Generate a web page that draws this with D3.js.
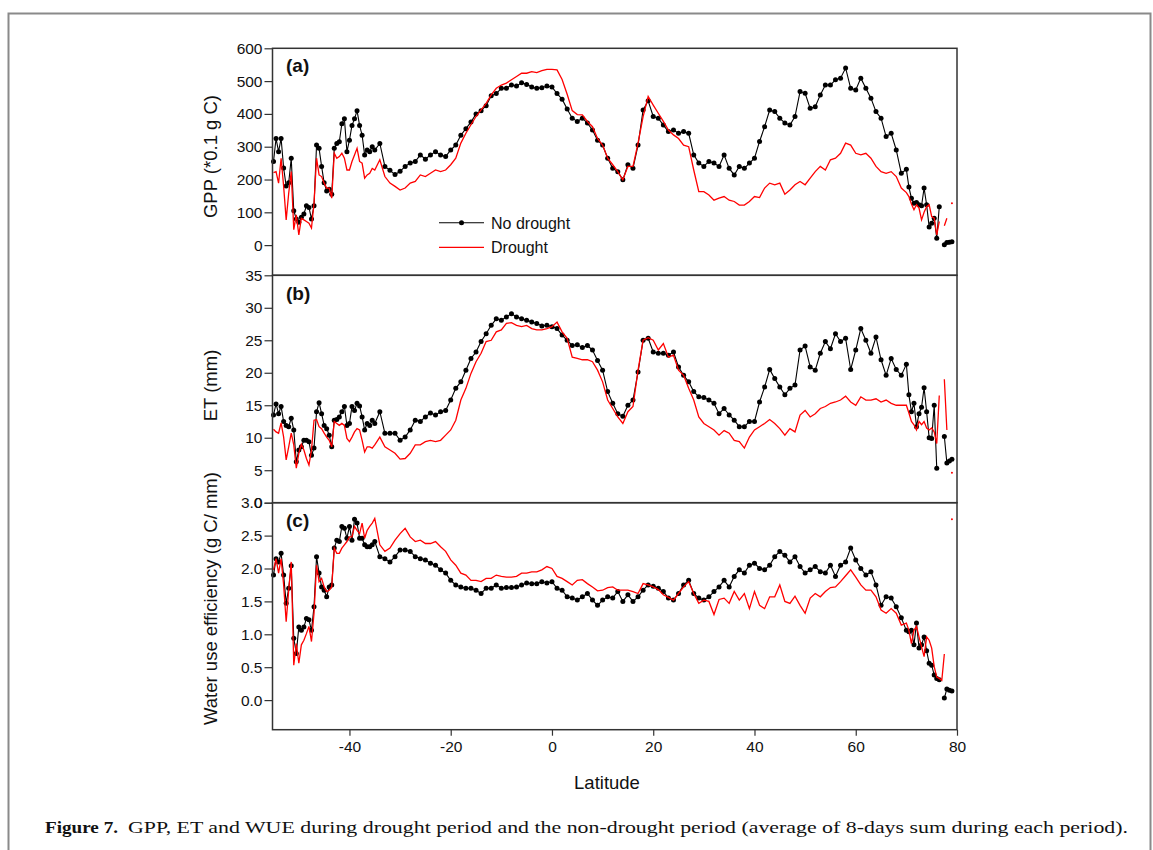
<!DOCTYPE html>
<html>
<head>
<meta charset="utf-8">
<script src="https://cdn.jsdelivr.net/npm/d3@7"></script>
<style>
  body { margin: 0; background: #fff; }
  svg text { font-family: "Liberation Sans", Arial, sans-serif; fill: #111; }
</style>
</head>
<body>
<svg id="chart" width="1153" height="850"></svg>
<script>
// Latitude grid: half degree at both ends, one degree in the middle
const lat = [].concat(d3.range(-55, -35, 0.5), d3.range(-35, 70, 1), d3.range(70, 79.5, 0.5));

// GPP (*0.1 g C)
const gppNoDrought = [
  255, 325, 285, 325, 235, 180, 190, 265, 105, 80,
  70, 85, 95, 120, 115, 80, 120, 305, 295, 240,
  190, 165, 170, 155, 295, 310, 315, 370, 385, 285,
  320, 365, 385, 410, 365, 335, 275, 290, 285, 300,
  290, 310, 240, 228, 215, 225, 240, 250, 255, 275,
  262, 275, 285, 275, 270, 290, 305, 335, 355, 375,
  400, 410, 425, 455, 462, 478, 478, 488, 485, 495,
  490, 482, 478, 480, 485, 482, 462, 445, 415, 387,
  377, 387, 372, 351, 320, 305, 265, 234, 224, 199,
  245, 234, 305, 412, 440, 392, 387, 366, 346, 351,
  341, 346, 341, 275, 250, 240, 255, 250, 240, 275,
  234, 214, 240, 234, 250, 265, 316, 361, 412, 407,
  387, 372, 366, 392, 468, 463, 417, 422, 458, 488,
  488, 504, 509, 540, 478, 473, 509, 478, 448, 407,
  387, 331, 341, 290, 219,
  231, 177, 143, 128, 130, 123, 120, 174, 123, 55,
  67, 82, 21, 117, null, 1, 8, 9, 10
];
const gppDrought = [
  221, 224, 189, 265, 179, 77, 158, 224, 47, 92,
  31, 82, 77, 72, 67, 52, 128, 265, 214, 209,
  189, 174, 174, 143, 280, 265, 270, 280, 265, 229,
  229, 255, 275, 295, 255, 250, 204, 214, 219, 234,
  229, 260, 209, 189, 179, 168, 174, 189, 194, 214,
  209, 219, 229, 224, 229, 245, 265, 311, 341, 367,
  392, 412, 432, 458, 478, 488, 494, 504, 514, 524,
  524, 529, 526, 532, 536, 536, 534, 505, 460, 410,
  398, 397, 377, 361, 325, 305, 265, 245, 224, 199,
  240, 240, 311, 392, 453, 427, 402, 377, 351, 336,
  325, 305, 300, 229, 163, 163, 153, 137, 143, 148,
  137, 133, 122, 122, 133, 148, 145, 174, 189, 184,
  189, 155, 168, 184, 194, 184, 204, 224, 240, 229,
  260, 265, 280, 311, 305, 280, 275, 280, 265, 240,
  224, 219, 224, 209, 174,
  160, 148, 125, 108, 123, 113, 77, 100, 117, 123,
  87, 82, 31, 72, null, 59, 82, null, 128
];

// ET (mm)
const etNoDrought = [
  13.5, 15.2, 13.7, 14.8, 12.5, 11.9, 11.7, 13.0, 11.2, 6.3,
  8.1, 8.6, 9.6, 9.6, 9.4, 7.3, 8.4, 14.0, 15.4, 13.7,
  11.9, 11.4, 10.4, 8.6, 12.7, 12.8, 13.2, 14.0, 14.8, 11.9,
  12.2, 14.8, 14.2, 15.3, 14.9, 13.2, 11.2, 12.2, 11.9, 12.7,
  12.2, 14.0, 10.7, 10.7, 10.7, 9.6, 10.1, 11.2, 12.7, 12.5,
  13.2, 13.8, 13.5, 14.0, 14.2, 15.8, 17.6, 18.6, 20.4, 22.2,
  23.2, 24.8, 26.0, 27.3, 28.3, 28.1, 28.6, 29.1, 28.6, 28.3,
  28.1, 27.8, 27.6, 27.2, 27.3, 27.1, 26.8, 25.8, 25.0, 24.2,
  24.3, 23.9, 24.2, 23.5, 21.9, 20.4, 17.1, 15.3, 13.7, 13.3,
  15.0, 15.8, 20.1, 25.0, 25.3, 23.2, 23.0, 23.0, 22.7, 23.2,
  20.9, 19.6, 18.6, 17.1, 16.3, 16.2, 15.8, 15.3, 13.7, 14.5,
  13.5, 12.7, 11.7, 11.7, 12.5, 12.5, 15.5, 17.8, 20.5, 19.1,
  17.8, 16.6, 17.6, 18.1, 23.5, 24.1, 20.9, 20.4, 23.0, 24.8,
  23.7, 26.0, 24.8, 25.3, 20.5, 23.5, 26.8, 25.0, 23.0, 25.5,
  22.0, 19.6, 22.2, 20.5, 19.6,
  21.3, 16.6, 14.0, 15.3, 11.7, 13.7, 14.7, 17.7, 14.0, 10.0,
  9.9, 15.0, 5.3, null, null, 10.2, 6.1, 6.4, 6.7
];
const etDrought = [
  11.3, 10.9, 10.7, 12.3, 10.1, 6.6, 8.6, 10.7, 8.9, 5.3,
  7.6, 9.0, 8.1, 6.8, 5.8, 8.1, 12.7, 12.8, 11.7, 11.4,
  10.7, 10.1, 9.6, 8.6, 12.5, 12.2, 11.9, 12.2, 11.9, 9.9,
  9.4, 10.1, 10.9, 11.4, 11.2, 9.6, 7.8, 8.6, 8.6, 8.4,
  8.9, 10.1, 8.6, 8.1, 7.6, 6.7, 6.8, 7.6, 8.9, 8.9,
  9.4, 9.6, 9.4, 9.6, 10.4, 11.2, 12.7, 15.8, 17.6, 19.9,
  21.7, 23.0, 24.8, 25.0, 26.3, 26.6, 27.6, 27.7, 27.3, 27.1,
  27.3, 26.8, 26.6, 26.6, 26.8, 27.1, 27.8, 26.3, 25.3, 22.4,
  22.2, 22.0, 22.0, 21.7, 20.4, 18.6, 15.8, 14.5, 13.2, 12.2,
  14.0, 14.8, 20.4, 25.0, 25.4, 25.0, 23.5, 24.5, 22.4, 22.7,
  20.4, 19.6, 17.6, 15.8, 13.2, 12.2, 11.7, 11.2, 10.4, 11.1,
  10.7, 9.6, 9.4, 8.4, 10.1, 11.2, 11.7, 12.2, 12.8, 12.2,
  11.4, 10.4, 11.4, 10.9, 13.5, 14.2, 13.2, 13.7, 14.5, 14.8,
  15.3, 15.5, 15.8, 16.4, 15.5, 15.0, 16.3, 15.8, 15.8, 16.0,
  15.5, 15.8, 15.3, 15.0, 15.0,
  15.0, 13.8, 12.5, 12.0, 11.2, 12.5, 12.0, 12.5, 11.5, 11.2,
  11.5, 10.9, 9.1, 16.5, null, 19.0, 11.2, null, 4.6
];

// Water use efficiency (g C/ mm)
const wueNoDrought = [
  1.90, 2.15, 2.10, 2.23, 1.90, 1.47, 1.70, 2.04, 0.94, 0.71,
  1.11, 1.06, 1.11, 1.24, 1.22, 1.06, 1.42, 2.18, 1.93, 1.72,
  1.67, 1.57, 1.72, 1.75, 2.31, 2.43, 2.41, 2.64, 2.61, 2.46,
  2.64, 2.43, 2.75, 2.69, 2.46, 2.46, 2.36, 2.33, 2.33, 2.36,
  2.41, 2.18, 2.15, 2.10, 2.18, 2.28, 2.28, 2.26, 2.18, 2.15,
  2.13, 2.08, 2.05, 1.98, 1.93, 1.82, 1.75, 1.72, 1.70, 1.70,
  1.67, 1.62, 1.70, 1.70, 1.75, 1.70, 1.71, 1.71, 1.72, 1.75,
  1.78, 1.77, 1.77, 1.80, 1.78, 1.80, 1.70, 1.67, 1.57, 1.55,
  1.52, 1.57, 1.62, 1.52, 1.44, 1.52, 1.57, 1.55, 1.65, 1.50,
  1.60, 1.50, 1.57, 1.67, 1.75, 1.73, 1.70, 1.65, 1.55, 1.52,
  1.62, 1.75, 1.82, 1.62, 1.55, 1.52, 1.57, 1.65, 1.72, 1.82,
  1.72, 1.88, 1.98, 1.93, 2.05, 2.08, 2.00, 1.98, 2.05, 2.18,
  2.26, 2.20, 2.10, 2.18, 2.03, 1.93, 1.98, 2.03, 1.95, 1.93,
  2.05, 1.88, 2.05, 2.10, 2.31, 2.13, 2.00, 1.90, 1.95, 1.75,
  1.44, 1.57, 1.55, 1.42, 1.25,
  1.06, 1.04, 1.06, 0.84, 1.17, 0.79, 0.84, 0.96, 0.75, 0.56,
  0.53, 0.38, 0.33, 0.31, null, 0.03, 0.17, 0.15, 0.14
];
const wueDrought = [
  1.98, 2.15, 1.93, 2.15, 1.75, 1.19, 1.67, 2.10, 0.53, 0.86,
  0.56, 0.84, 0.91, 1.01, 1.12, 0.89, 1.32, 2.05, 1.80, 1.85,
  1.72, 1.65, 1.67, 1.72, 2.31, 2.23, 2.23, 2.31, 2.36, 2.41,
  2.48, 2.48, 2.64, 2.58, 2.53, 2.69, 2.46, 2.58, 2.64, 2.69,
  2.76, 2.36, 2.26, 2.31, 2.43, 2.53, 2.61, 2.48, 2.41, 2.43,
  2.38, 2.38, 2.41, 2.33, 2.26, 2.13, 2.05, 1.93, 1.90, 1.82,
  1.82, 1.80, 1.85, 1.85, 1.90, 1.88, 1.87, 1.87, 1.88, 1.93,
  1.93, 1.95, 1.95, 1.98, 2.03, 2.00, 1.88, 1.85, 1.80, 1.75,
  1.82, 1.83, 1.77, 1.72, 1.66, 1.67, 1.71, 1.72, 1.67, 1.67,
  1.67, 1.65, 1.62, 1.77, 1.75, 1.72, 1.68, 1.60, 1.56, 1.52,
  1.62, 1.72, 1.80, 1.62, 1.47, 1.52, 1.50, 1.30, 1.53, 1.55,
  1.47, 1.65, 1.52, 1.62, 1.39, 1.65, 1.44, 1.39, 1.57, 1.57,
  1.75, 1.50, 1.47, 1.58, 1.44, 1.32, 1.55, 1.62, 1.57, 1.65,
  1.71, 1.72, 1.80, 1.89, 1.98, 1.87, 1.75, 1.67, 1.67, 1.57,
  1.37, 1.32, 1.39, 1.32, 1.14,
  1.17, 1.06, 0.86, 1.06, 1.12, 0.96, 0.81, 0.66, 0.96, 0.91,
  0.79, 0.51, 0.35, 0.33, 0.30, 0.70, null, null, 2.75
];

// Tick values
const latTicks = [-40, -20, 0, 20, 40, 60, 80];
const gppTicks = [0, 100, 200, 300, 400, 500, 600];
const etTicks = [0, 5, 10, 15, 20, 25, 30, 35];
const wueTicks = [0, 0.5, 1, 1.5, 2, 2.5, 3];

const svg = d3.select('#chart');

// Figure frame
svg.append('path')
  .attr('d', 'M8.5,850V13.5H1150.5V850')
  .attr('fill', 'none')
  .attr('stroke', '#8a8a8a')
  .attr('stroke-width', 2);

const x = d3.scaleLinear().domain([-55.2, 80]).range([272.5, 957]);

const panels = [
  {label: '(a)', title: 'GPP (*0.1 g C)', domain: [-92, 600], top: 48.3, bottom: 275.3,
   ticks: gppTicks, fmt: d => String(d), no: gppNoDrought, dr: gppDrought, titleY: 156.5, labelY: 71.5},
  {label: '(b)', title: 'ET (mm)', domain: [0, 35], top: 275.3, bottom: 502.7,
   ticks: etTicks, fmt: d => String(d), no: etNoDrought, dr: etDrought, titleY: 385.5, labelY: 300},
  {label: '(c)', title: 'Water use efficiency (g C/ mm)', domain: [-0.45, 3], top: 502.7, bottom: 729.7,
   ticks: wueTicks, fmt: d => d.toFixed(1), no: wueNoDrought, dr: wueDrought, titleY: 598.5, labelY: 526.5}
];

panels.forEach(p => {
  const y = d3.scaleLinear().domain(p.domain).range([p.bottom, p.top]);
  const g = svg.append('g');

  // Y axis
  const ax = g.append('g')
    .attr('transform', `translate(${x.range()[0]},0)`)
    .call(d3.axisLeft(y).tickValues(p.ticks).tickFormat(p.fmt).tickSize(8).tickPadding(2));
  ax.select('.domain').remove();
  ax.selectAll('line').attr('stroke', '#333').attr('stroke-width', 1.2);
  ax.selectAll('text')
    .style('font-size', '15.5px')
    .style('font-family', '"Liberation Sans", Arial, sans-serif')
    .attr('fill', '#111');

  // Y title
  g.append('text')
    .attr('transform', `translate(216.5,${p.titleY}) rotate(-90)`)
    .attr('text-anchor', 'middle')
    .style('font-size', '18.5px')
    .text(p.title);

  const pts = lat.map((l, i) => [l, p.no[i]]);
  const ptsDr = lat.map((l, i) => [l, p.dr[i]]);
  const line = d3.line()
    .defined(d => d[1] != null)
    .x(d => x(d[0]))
    .y(d => y(d[1]));

  // No drought: black line with markers
  g.append('path')
    .datum(pts)
    .attr('d', line)
    .attr('fill', 'none')
    .attr('stroke', '#000')
    .attr('stroke-width', 1.1);
  g.selectAll('.mk')
    .data(pts.filter(d => d[1] != null))
    .enter()
    .append('circle')
    .attr('cx', d => x(d[0]))
    .attr('cy', d => y(d[1]))
    .attr('r', 2.5)
    .attr('fill', '#000');

  // Drought: red line
  g.append('path')
    .datum(ptsDr)
    .attr('d', line)
    .attr('fill', 'none')
    .attr('stroke', '#ff0000')
    .attr('stroke-width', 1.3);
  // isolated red points
  g.selectAll('.iso')
    .data(ptsDr.filter((d, i) => d[1] != null &&
      (i === 0 || ptsDr[i - 1][1] == null) && (i === ptsDr.length - 1 || ptsDr[i + 1][1] == null)))
    .enter()
    .append('circle')
    .attr('cx', d => x(d[0]))
    .attr('cy', d => y(d[1]))
    .attr('r', 1)
    .attr('fill', '#ff0000');

  // Frame
  g.append('rect')
    .attr('x', x.range()[0])
    .attr('y', p.top)
    .attr('width', x.range()[1] - x.range()[0])
    .attr('height', p.bottom - p.top)
    .attr('fill', 'none')
    .attr('stroke', '#333')
    .attr('stroke-width', 1.5);

  // Panel label
  g.append('text')
    .attr('x', 286)
    .attr('y', p.labelY)
    .style('font-size', '19px')
    .style('font-weight', 'bold')
    .text(p.label);
});

// X axis
const xa = svg.append('g')
  .attr('transform', 'translate(0,729.7)')
  .call(d3.axisBottom(x).tickValues(latTicks).tickFormat(d => String(d)).tickSize(6).tickPadding(5));
xa.select('.domain').remove();
xa.selectAll('line').attr('stroke', '#333').attr('stroke-width', 1.2);
xa.selectAll('text')
  .style('font-size', '15.5px')
  .style('font-family', '"Liberation Sans", Arial, sans-serif')
  .attr('fill', '#111');

svg.append('text')
  .attr('x', 607)
  .attr('y', 789)
  .attr('text-anchor', 'middle')
  .style('font-size', '18.5px')
  .text('Latitude');

// Legend
const legend = svg.append('g');
legend.append('line')
  .attr('x1', 439).attr('x2', 484).attr('y1', 222.7).attr('y2', 222.7)
  .attr('stroke', '#000').attr('stroke-width', 1.1);
legend.append('circle')
  .attr('cx', 461.5).attr('cy', 222.7).attr('r', 2.5).attr('fill', '#000');
legend.append('text')
  .attr('x', 491).attr('y', 228.5)
  .style('font-size', '16px')
  .text('No drought');
legend.append('line')
  .attr('x1', 439).attr('x2', 484).attr('y1', 247.3).attr('y2', 247.3)
  .attr('stroke', '#ff0000').attr('stroke-width', 1.3);
legend.append('text')
  .attr('x', 491).attr('y', 253)
  .style('font-size', '16px')
  .text('Drought');

// Caption
svg.append('text')
  .attr('x', 45).attr('y', 832.5)
  .attr('textLength', 73).attr('lengthAdjust', 'spacingAndGlyphs')
  .style('font-family', '"Liberation Serif", "Times New Roman", serif')
  .style('font-weight', 'bold')
  .style('font-size', '16.5px')
  .text('Figure 7.');
svg.append('text')
  .attr('x', 128).attr('y', 832.5)
  .attr('textLength', 1000).attr('lengthAdjust', 'spacingAndGlyphs')
  .style('font-family', '"Liberation Serif", "Times New Roman", serif')
  .style('font-size', '16.5px')
  .text('GPP, ET and WUE during drought period and the non-drought period (average of 8-days sum during each period).');
</script>
</body>
</html>
